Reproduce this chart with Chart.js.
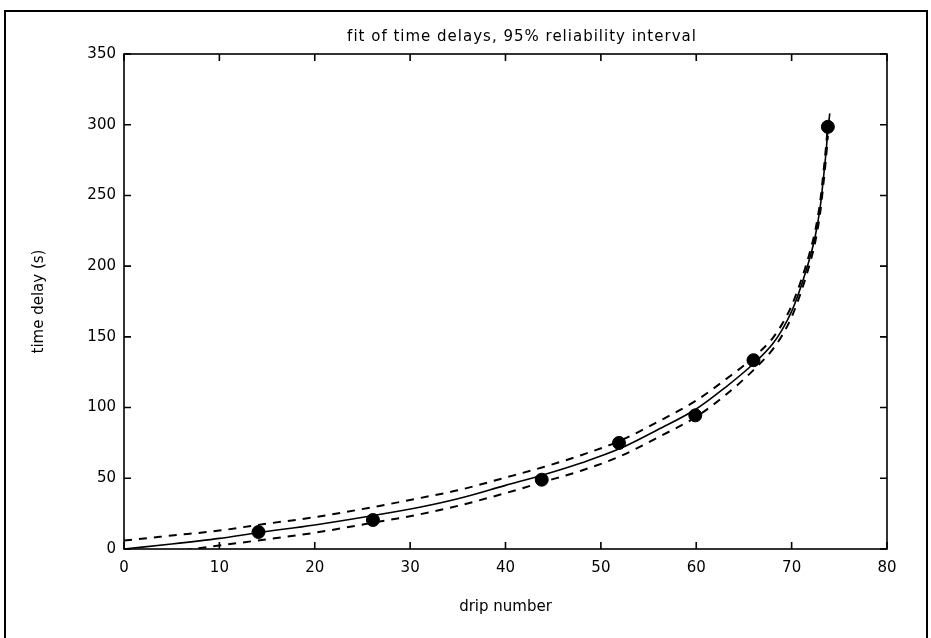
<!DOCTYPE html>
<html><head><meta charset="utf-8">
<script src="https://cdn.jsdelivr.net/npm/chart.js@4.4.0/dist/chart.umd.min.js"></script>
<style>html,body{margin:0;padding:0;background:#fff;}#wrap{width:931px;height:638px;}</style>
</head><body><div id="wrap"><canvas id="c" width="931" height="638"></canvas></div>
<script>
// ---- data ----
const titleText = 'fit of time delays, 95% reliability interval';
const xTitle = 'drip number';
const yTitle = 'time delay (s)';
const xTickValues = [0, 10, 20, 30, 40, 50, 60, 70, 80];
const yTickValues = [0, 50, 100, 150, 200, 250, 300, 350];

const dripNumber = [14.1, 26.1, 43.8, 51.9, 59.9, 66.0, 73.8];
const timeDelay  = [12, 20.5, 49, 75, 94.5, 133.5, 298.5];

const fitX = [0, 5, 10, 14, 20, 26, 31, 35, 40, 44, 48, 52, 56, 60, 63, 66, 68, 69, 70, 71, 72, 72.5, 73, 73.3, 73.6, 73.8, 74.0];
const fitY = [0, 3.5, 7.5, 11.5, 17, 23.5, 29.5, 35.5, 45, 52.5, 61, 71, 84.5, 99, 114, 131, 145, 155, 168, 186, 208, 222, 242, 260, 280, 296, 308];

const bandX  = [0, 5, 10, 14, 20, 26, 31, 35, 40, 44, 48, 52, 56, 60, 63, 66, 68, 69, 70, 71, 72, 72.5, 73, 73.3, 73.6, 73.8];
const upperY = [6, 9.5, 13, 17, 22.5, 29.5, 36, 41.5, 50.5, 58, 66.5, 76.5, 90, 105, 119.5, 135.5, 149, 159, 172, 190, 212, 226, 246, 264, 284, 300];
const lowerY = [-6, -2, 2.5, 6, 11.5, 18.5, 24.5, 30.5, 39.5, 47.5, 55.5, 65.5, 79, 93.5, 108.5, 126.5, 141, 151, 164, 182, 204, 218, 238, 256, 276, 292];

const pts = (xs, ys) => xs.map((v, i) => ({x: v, y: ys[i]}));
const FONT = "'DejaVu Sans', sans-serif";

const framePlugin = {
  id: 'frame',
  afterDraw(chart) {
    const {ctx, chartArea: a, scales: {x, y}} = chart;
    ctx.save();
    ctx.strokeStyle = '#000';
    ctx.lineWidth = 2;
    ctx.beginPath();
    ctx.moveTo(5, 660); ctx.lineTo(5, 11); ctx.lineTo(927, 11); ctx.lineTo(927, 660);
    ctx.stroke();
    ctx.lineWidth = 1.6;
    ctx.strokeRect(a.left, a.top, a.right - a.left, a.bottom - a.top);
    const L = 7;
    ctx.beginPath();
    x.ticks.forEach(t => {
      const p = x.getPixelForValue(t.value);
      ctx.moveTo(p, a.bottom); ctx.lineTo(p, a.bottom - L);
      ctx.moveTo(p, a.top); ctx.lineTo(p, a.top + L);
    });
    y.ticks.forEach(t => {
      const p = y.getPixelForValue(t.value);
      ctx.moveTo(a.left, p); ctx.lineTo(a.left + L, p);
      ctx.moveTo(a.right, p); ctx.lineTo(a.right - L, p);
    });
    ctx.stroke();
    // title
    ctx.fillStyle = '#000';
    ctx.font = "15px " + FONT;
    if ('letterSpacing' in ctx) ctx.letterSpacing = '1px';
    ctx.textAlign = 'center';
    ctx.textBaseline = 'middle';
    ctx.fillText(titleText, 522, 37);
    ctx.restore();
  }
};

new Chart(document.getElementById('c'), {
  type: 'scatter',
  data: {
    datasets: [
      {label: 'data', data: pts(dripNumber, timeDelay), showLine: false,
       pointRadius: 6.5, pointHoverRadius: 6.5, backgroundColor: '#000', borderColor: '#000', order: 0},
      {label: 'fit', data: pts(fitX, fitY), showLine: true, pointRadius: 0,
       borderColor: '#000', borderWidth: 1.6, cubicInterpolationMode: 'monotone', order: 1},
      {label: 'upper', data: pts(bandX, upperY), showLine: true, pointRadius: 0,
       borderColor: '#000', borderWidth: 2, borderDash: [8, 7], cubicInterpolationMode: 'monotone', order: 2},
      {label: 'lower', data: pts(bandX, lowerY), showLine: true, pointRadius: 0,
       borderColor: '#000', borderWidth: 2, borderDash: [8, 7], cubicInterpolationMode: 'monotone', order: 3}
    ]
  },
  options: {
    responsive: false,
    animation: false,
    devicePixelRatio: 1,
    layout: {padding: {left: 30, right: 44, top: 54, bottom: 0}},
    plugins: {
      legend: {display: false},
      tooltip: {enabled: false},
      title: {display: false}
    },
    scales: {
      x: {
        type: 'linear', min: 0, max: 80,
        afterBuildTicks: s => { s.ticks = xTickValues.map(v => ({value: v})); },
        afterFit: s => { s.height = 89; },
        grid: {display: false, drawTicks: false}, border: {display: false},
        ticks: {color: '#000', padding: 10, font: {family: FONT, size: 15}, maxRotation: 0},
        title: {display: true, text: xTitle, color: '#000', font: {family: FONT, size: 15}, padding: {top: 0, bottom: 22}}
      },
      y: {
        type: 'linear', min: 0, max: 350,
        afterBuildTicks: s => { s.ticks = yTickValues.map(v => ({value: v})); },
        afterFit: s => { s.width = 94; },
        grid: {display: false, drawTicks: false}, border: {display: false},
        ticks: {color: '#000', padding: 8, font: {family: FONT, size: 15}},
        title: {display: true, text: yTitle, color: '#000', font: {family: FONT, size: 15}, padding: {top: 0, bottom: 0}}
      }
    }
  },
  plugins: [framePlugin]
});
</script></body></html>
